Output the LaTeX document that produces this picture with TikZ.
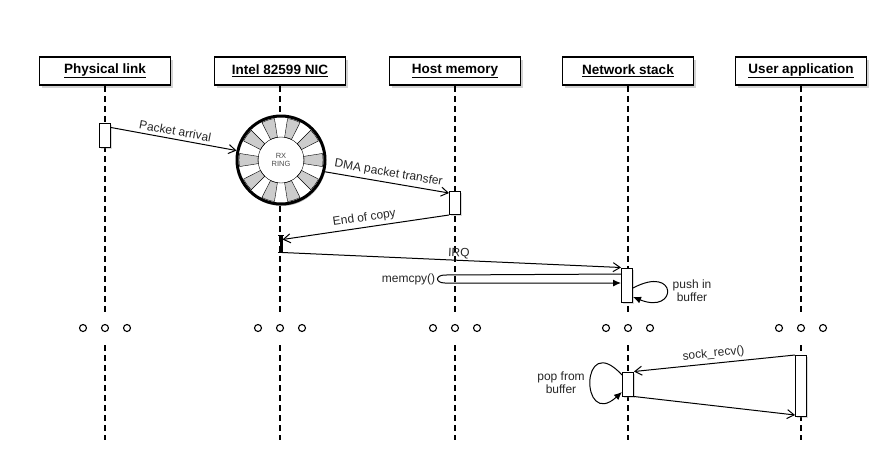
\documentclass[tikz,border=0pt]{standalone}
\usepackage{fontspec}
\setmainfont{Liberation Sans}
\usetikzlibrary{arrows.meta,shadows}

\begin{document}
\begin{tikzpicture}[x=1pt,y=-1pt,line width=1pt,
  head/.style={draw,line width=1.6pt,fill=white,minimum width=131pt,minimum height=28pt,
    font=\bfseries\fontsize{13.5}{15}\selectfont,drop shadow={opacity=.35}},
  act/.style={draw,fill=white,inner sep=0pt,minimum width=11pt,
    drop shadow={opacity=.3,shadow xshift=1.5pt,shadow yshift=-1.5pt}},
  life/.style={line width=1.4pt,dash pattern=on 6pt off 4pt},
  msg/.style={-{Straight Barb[length=7pt,width=9pt]}},
  self/.style={-{Latex[length=8pt,width=7pt]}},
  lbl/.style={font=\fontsize{12}{13}\selectfont,text=black!85},
  dot/.style={circle,draw,line width=1.1pt,inner sep=0pt,minimum size=7pt}]
\useasboundingbox (0,0) rectangle (885,467);
% heads, lifelines and dots
\foreach \n/\x/\t in {phy/105/Physical link,nic/280/Intel 82599 NIC,
    host/455/Host memory,net/628/Network stack,user/801/User application}{
  \node[head] (\n) at (\x,71) {\underline{\t}};
  \draw[life] (\n.south) -- (\x,312) (\x,345) -- (\x,440);
  \foreach \d in {-22,0,22} \node[dot] (\n dot\d) at (\x+\d,328) {};
}
% rx ring
\node[circle,draw,line width=3pt,fill=white,minimum size=88pt,
  drop shadow={opacity=.55,shadow xshift=1pt,shadow yshift=-2pt}] (ring) at (281,160) {};
\begin{scope}[shift={(ring.center)}]
  \foreach \a in {0,36,...,324}
    \draw[thin,fill=gray!40] (\a-9:23) -- (\a-9:42)
      arc[start angle=\a-9,end angle=\a+9,radius=42] -- (\a+9:23)
      arc[start angle=\a+9,end angle=\a-9,radius=23] -- cycle;
  \draw[thin] (0,0) circle[radius=23];
\end{scope}
\node[font=\fontsize{7.5}{8.5}\selectfont,text=gray!60!black,align=center]
  (ringlbl) at (ring.center) {RX\\RING};
% activations
\node[act,minimum height=24pt] (phyact) at (105,135) {};
\node[act,minimum height=23pt] (hostact) at (455,203) {};
\node[draw,fill=black,inner sep=0pt,minimum width=2pt,minimum height=16pt]
  (nicact) at (281,244) {};
\draw ([xshift=-3pt]nicact.north) -- ([xshift=3pt]nicact.north)
  ([xshift=-3pt]nicact.south) -- ([xshift=3pt]nicact.south);
\node[act,minimum height=34pt] (netact) at (627,285) {};
\node[act,minimum height=24pt] (netrecv) at (628,384) {};
\node[act,minimum height=61pt] (useract) at (801,386) {};
% messages
\draw[msg] ([yshift=-5pt]phyact.north east) --
  node[lbl,sloped,above] {Packet arrival} (ring.168);
\draw[msg] (ring.-15) --
  node[lbl,sloped,above] {DMA packet transfer} ([yshift=-2pt]hostact.north west);
\draw[msg] (hostact.south west) --
  node[lbl,sloped,above] {End of copy} ([yshift=-4pt]nicact.north east);
\draw[msg] (nicact.south east) --
  node[lbl,sloped,above,pos=.52,inner sep=1pt] {IRQ} (netact.north west);
\draw[self] ([yshift=11pt]netact.west) -- ++(-176,1)
  .. controls +(-10,0) and +(-10,0) .. ++(0,8) -- ([yshift=2pt]netact.west);
\node[lbl,left] (memcpylbl) at (439,279) {memcpy()};
\draw[self] ([yshift=-3pt]netact.east) .. controls +(45,-24) and +(45,18)
  .. ([yshift=-12pt]netact.east);
\node[lbl,align=center] (pushlbl) at (692,291) {push in\\buffer};
\draw[msg] (useract.north west) --
  node[lbl,sloped,above] {sock\_recv()} (netrecv.north east);
\draw[msg] (netrecv.south east) -- ([yshift=2pt]useract.south west);
\draw[self] ([yshift=9pt]netrecv.west) .. controls +(-42,-46) and +(-42,38)
  .. ([yshift=-8pt]netrecv.west);
\node[lbl,align=center] (poplbl) at (561,383) {pop from\\buffer};
\end{tikzpicture}
\end{document}
